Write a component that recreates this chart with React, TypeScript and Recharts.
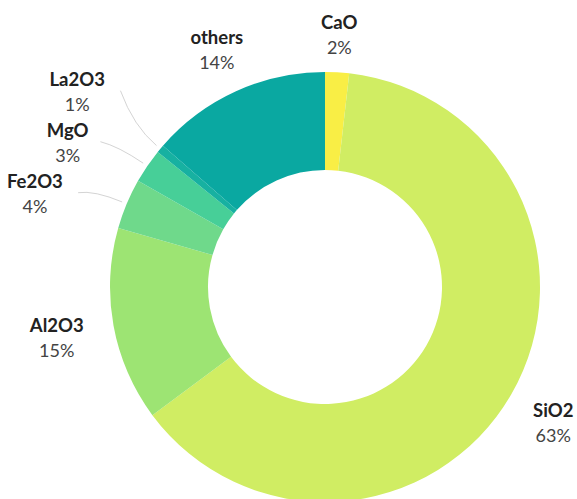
import { PieChart, Pie, Cell } from 'recharts';

// clockwise from 12 o'clock
const oxides = ['CaO', 'SiO2', 'Al2O3', 'Fe2O3', 'MgO', 'La2O3', 'others'];
const shares = [1.8, 63.1, 14.6, 3.8, 2.6, 0.6, 13.6];
const colors = ['#f9ee45', '#d0ed63', '#9de473', '#6fd98b', '#47cf98', '#17b1a1', '#0aa8a1'];

// labels that are pulled away from their slice and get a leader line
// shift is in degrees, clockwise
const pulled: Record<string, { dist: number; shift: number }> = {
  Fe2O3: { dist: 306, shift: -4.2 },
  MgO: { dist: 297, shift: -4.3 },
  La2O3: { dist: 318, shift: -1.2 },
};

const data = oxides.map((name, i) => ({ name, value: shares[i] }));

const RAD = Math.PI / 180;
const FONT = 'Lato, sans-serif';

function renderLabel(props: any) {
  const { cx, cy, midAngle, outerRadius, percent, name } = props;
  const ux = Math.cos(-midAngle * RAD);
  const uy = Math.sin(-midAngle * RAD);
  const w = name.length * 10.5 + 4;
  const p = pulled[name];

  let bx: number;
  let by: number;
  if (p) {
    const a = -(midAngle - p.shift) * RAD;
    bx = cx + p.dist * Math.cos(a);
    by = cy + p.dist * Math.sin(a) + 3;
  } else {
    // labels on the left sit a bit further out, lower ones drop a little
    const d = 253 + 12 * Math.abs(ux) + (ux < 0 ? 8 * -ux : 0);
    bx = cx + d * ux;
    by = cy + d * uy + (uy > 0 ? 8 * uy : 0);
  }

  let line = null;
  if (p) {
    const sx = cx + (outerRadius + 5) * ux;
    const sy = cy + (outerRadius + 5) * uy;
    const qx = sx + 30 * ux;
    const qy = sy + 30 * uy;
    const ex = bx + w / 2 + 15;
    const ey = by;
    line = <path d={`M${sx},${sy} Q${qx},${qy} ${ex},${ey}`} stroke="#d4d4d4" strokeWidth={1} fill="none" />;
  }

  return (
    <g>
      {line}
      <text x={bx} y={by - 12} textAnchor="middle" dominantBaseline="central"
        fontFamily={FONT} fontWeight={700} fontSize={18.5} fill="#222">
        {name}
      </text>
      <text x={bx} y={by + 13} textAnchor="middle" dominantBaseline="central"
        fontFamily={FONT} fontSize={18} fill="#444">
        {Math.round(percent * 100)}%
      </text>
    </g>
  );
}

export default function App() {
  return (
    <div style={{ position: 'absolute', left: 0, top: 0, width: 577, height: 499, background: '#fff' }}>
      <PieChart width={577} height={499} margin={{ top: 0, right: 0, bottom: 0, left: 0 }}>
        <Pie
          data={data}
          dataKey="value"
          nameKey="name"
          cx={325}
          cy={287}
          innerRadius={117}
          outerRadius={215}
          startAngle={90}
          endAngle={-270}
          stroke="none"
          label={renderLabel}
          labelLine={false}
          isAnimationActive={false}
        >
          {data.map((d, i) => (
            <Cell key={d.name} fill={colors[i]} />
          ))}
        </Pie>
      </PieChart>
    </div>
  );
}
